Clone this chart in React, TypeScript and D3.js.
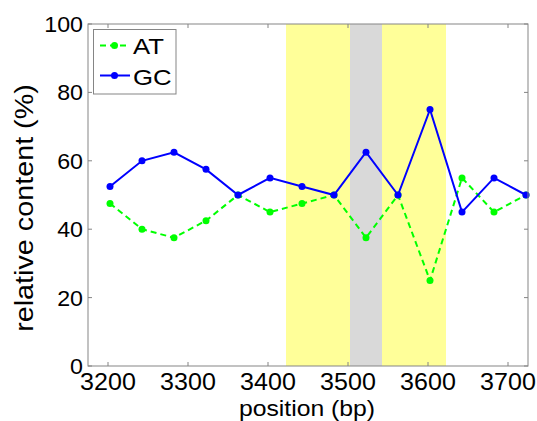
import React from "react";
import * as d3 from "d3";

const positions = [3202.5, 3242.5, 3282.5, 3322.5, 3362.5, 3402.5, 3442.5, 3482.5, 3522.5, 3562.5, 3602.5, 3642.5, 3682.5, 3722.5];
const gcValues = [52.5, 60, 62.5, 57.5, 50, 55, 52.5, 50, 62.5, 50, 75, 45, 55, 50];
const atValues = [47.5, 40, 37.5, 42.5, 50, 45, 47.5, 50, 37.5, 50, 25, 55, 45, 50];
const xTicks = [3200, 3300, 3400, 3500, 3600, 3700];
const yTicks = [0, 20, 40, 60, 80, 100];
const regions = [
  { start: 3422.5, end: 3502.5, kind: "yellow" },
  { start: 3502.5, end: 3542.5, kind: "gray" },
  { start: 3542.5, end: 3622.5, kind: "yellow" },
];
const seriesNames = ["AT", "GC"];

const W = 537, H = 421;
const L = 88, R = 528, T = 24, B = 366;
const FONT = "'Liberation Sans', Arial, sans-serif";

export default function App() {
  const x = d3.scaleLinear().domain([3175, 3725]).range([L, R]);
  const y = d3.scaleLinear().domain([0, 100]).range([B, T]);
  const line = d3.line<[number, number]>().x(d => x(d[0])).y(d => y(d[1]));
  const atPts = positions.map((p, i) => [p, atValues[i]] as [number, number]);
  const gcPts = positions.map((p, i) => [p, gcValues[i]] as [number, number]);
  const green = "#00ff00";
  const blue = "#0000ff";
  const axisColor = "#858585";
  const tl = 4;
  return (
    <svg width={W} height={H} style={{ position: "absolute", left: 0, top: 0, background: "#fff" }}>
      {regions.map((r, i) => (
        <rect key={i} x={x(r.start)} y={T} width={x(r.end) - x(r.start)} height={B - T}
          fill={r.kind === "yellow" ? "#ffff99" : "#d9d9d9"} />
      ))}
      <path d={line(atPts) || ""} fill="none" stroke={green} strokeWidth={2} strokeDasharray="6,4" />
      {atPts.map((d, i) => <circle key={i} cx={x(d[0])} cy={y(d[1])} r={3.5} fill={green} />)}
      <path d={line(gcPts) || ""} fill="none" stroke={blue} strokeWidth={2} />
      {gcPts.map((d, i) => <circle key={i} cx={x(d[0])} cy={y(d[1])} r={3.5} fill={blue} />)}
      <rect x={L} y={T} width={R - L} height={B - T} fill="none" stroke={axisColor} strokeWidth={1} />
      {xTicks.map(t => (
        <g key={t}>
          <line x1={x(t)} x2={x(t)} y1={B} y2={B - tl} stroke={axisColor} />
          <line x1={x(t)} x2={x(t)} y1={T} y2={T + tl} stroke={axisColor} />
          <text transform={`translate(${x(t)},390) scale(1.09,1)`} textAnchor="middle" fontFamily={FONT} fontSize={23} fill="#000">{t}</text>
        </g>
      ))}
      {yTicks.map(t => (
        <g key={t}>
          <line x1={L} x2={L + tl} y1={y(t)} y2={y(t)} stroke={axisColor} />
          <line x1={R} x2={R - tl} y1={y(t)} y2={y(t)} stroke={axisColor} />
          <text transform={`translate(83,${y(t) + 8}) scale(1.08,1)`} textAnchor="end" fontFamily={FONT} fontSize={21.5} fill="#000">{t}</text>
        </g>
      ))}
      <text transform={`translate(307,415.5) scale(1.1,1)`} textAnchor="middle" fontFamily={FONT} fontSize={22.5} fill="#000">position (bp)</text>
      <text transform={`translate(33,208) rotate(-90) scale(1.15,1)`} textAnchor="middle" fontFamily={FONT} fontSize={25} fill="#000">relative content (%)</text>
      <g>
        <rect x={93.5} y={29.5} width={82.5} height={64.5} fill="#fff" stroke={axisColor} />
        <line x1={100} x2={130} y1={45.5} y2={45.5} stroke={green} strokeWidth={2} strokeDasharray="6,4" />
        <circle cx={114.5} cy={45.5} r={3.5} fill={green} />
        <text transform="translate(133,53.5) scale(1.12,1)" fontFamily={FONT} fontSize={23} fill="#000">{seriesNames[0]}</text>
        <line x1={100} x2={130} y1={75.5} y2={75.5} stroke={blue} strokeWidth={2} />
        <circle cx={114.5} cy={75.5} r={3.5} fill={blue} />
        <text transform="translate(133,84.5) scale(1.12,1)" fontFamily={FONT} fontSize={23} fill="#000">{seriesNames[1]}</text>
      </g>
    </svg>
  );
}
